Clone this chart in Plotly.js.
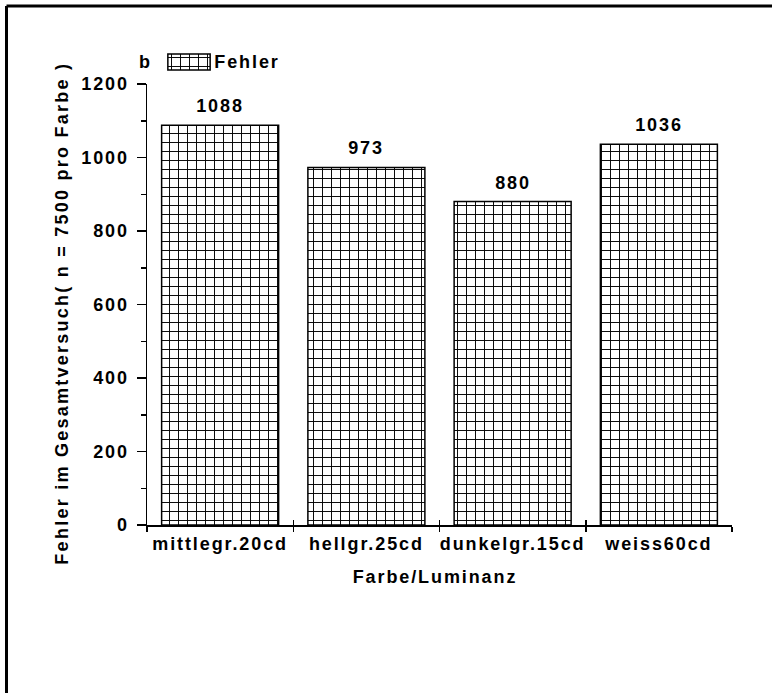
<!DOCTYPE html>
<html>
<head>
<meta charset="utf-8">
<script src="https://cdn.plot.ly/plotly-3.0.1.min.js"></script>
<style>
  html, body { margin: 0; padding: 0; background: #fff; }
  #chart { width: 772px; height: 693px; }
  .main-svg text { letter-spacing: 1.9px; }
  .main-svg .annotation[data-index="7"] text { letter-spacing: 2.25px; }
</style>
</head>
<body>
<div id="chart"></div>
<script>
// ---- data ----
const categories = ['mittlegr.20cd', 'hellgr.25cd', 'dunkelgr.15cd', 'weiss60cd'];
const fehler = [1088, 973, 880, 1036];
const seriesName = 'Fehler';
const panelLabel = 'b';
const xTitle = 'Farbe/Luminanz';
const yTitle = 'Fehler im Gesamtversuch( n = 7500 pro Farbe )';
const yTicks = [0, 200, 400, 600, 800, 1000, 1200];

// ---- geometry helpers (pixel -> paper) ----
const W = 772, H = 693;
const M = { l: 147, r: 40, t: 40, b: 168 };
const PW = W - M.l - M.r, PH = H - M.t - M.b;
const plotTopPx = 84;
const px = p => (p - M.l) / PW;
const py = p => (H - M.b - p) / PH;

const FONT = { family: 'Liberation Sans, Arial, sans-serif', size: 18, color: '#000', weight: 'bold' };
const pattern = { shape: '+', size: 9, solidity: 0.2, fgcolor: '#000', bgcolor: '#fff', fillmode: 'replace' };

const traces = [
  {
    type: 'bar', x: categories, y: fehler, name: seriesName,
    marker: { color: '#fff', pattern: pattern, line: { color: '#000', width: 1.5 } },
    xaxis: 'x', yaxis: 'y', showlegend: false, hoverinfo: 'x+y'
  },
  { // legend swatch
    type: 'bar', x: [0], y: [1], base: [0], width: [1], name: seriesName,
    marker: { color: '#fff', pattern: pattern, line: { color: '#000', width: 1.5 } },
    xaxis: 'x2', yaxis: 'y2', showlegend: false, hoverinfo: 'skip'
  },
  { // anchors the overlay tick axis
    type: 'scatter', mode: 'none', x: [0], y: [0], xaxis: 'x3', yaxis: 'y',
    showlegend: false, hoverinfo: 'skip'
  }
];

const annotations = fehler.map((v, i) => ({
  x: categories[i], y: v, xref: 'x', yref: 'y', text: String(v),
  showarrow: false, yanchor: 'bottom', yshift: 7, font: FONT
}));
annotations.push(
  { x: px(145), y: py(62), xref: 'paper', yref: 'paper', text: panelLabel, showarrow: false,
    xanchor: 'center', yanchor: 'middle', font: FONT },
  { x: px(218), y: py(62), xref: 'paper', yref: 'paper', text: seriesName, showarrow: false,
    xanchor: 'left', yanchor: 'middle', font: FONT },
  { x: px(435), y: py(577), xref: 'paper', yref: 'paper', text: xTitle, showarrow: false,
    xanchor: 'center', yanchor: 'middle', font: FONT },
  { x: px(62), y: py(313), xref: 'paper', yref: 'paper', text: yTitle, showarrow: false,
    xanchor: 'center', yanchor: 'middle', textangle: -90, font: FONT }
);

const layout = {
  width: W, height: H,
  margin: M,
  paper_bgcolor: '#fff', plot_bgcolor: '#fff',
  font: FONT,
  showlegend: false,
  bargap: 0.2,
  xaxis: {
    type: 'category', categoryarray: categories, categoryorder: 'array',
    range: [-0.5, categories.length - 0.5],
    showline: true, linecolor: '#000', linewidth: 1.5,
    ticks: 'outside', ticklen: 5, tickwidth: 1.5, tickcolor: '#000',
    tickson: 'boundaries', showgrid: false, zeroline: false,
    tickfont: FONT, ticklabelstandoff: 2, fixedrange: true
  },
  xaxis3: {
    overlaying: 'x', anchor: 'y', range: [-0.5, categories.length - 0.5],
    tickmode: 'array', tickvals: categories.map((c, i) => i - 0.5).concat([categories.length - 0.5]),
    ticks: 'inside', ticklen: 5, tickwidth: 1.5, tickcolor: '#000',
    showticklabels: false, showline: false, showgrid: false, zeroline: false, fixedrange: true
  },
  yaxis: {
    domain: [0, py(plotTopPx)], range: [0, 1200],
    tickmode: 'array', tickvals: yTicks,
    showline: true, linecolor: '#000', linewidth: 1.5,
    ticks: 'outside', ticklen: 9, tickwidth: 1.5, tickcolor: '#000',
    minor: { dtick: 100, ticks: 'outside', ticklen: 5, tickwidth: 1.5, tickcolor: '#000' },
    showgrid: false, zeroline: false, tickfont: FONT, ticklabelstandoff: 4, fixedrange: true
  },
  xaxis2: {
    domain: [px(167), px(211)], anchor: 'y2', range: [-0.52, 0.52], visible: false, fixedrange: true
  },
  yaxis2: {
    domain: [py(71), py(53)], anchor: 'x2', range: [-0.06, 1.06], visible: false, fixedrange: true
  },
  annotations: annotations,
  shapes: [
    { type: 'line', xref: 'paper', yref: 'paper', x0: px(6.5), x1: px(W + 20), y0: py(6), y1: py(6),
      line: { color: '#000', width: 3 } },
    { type: 'line', xref: 'paper', yref: 'paper', x0: px(6.5), x1: px(6.5), y0: py(6), y1: py(H + 20),
      line: { color: '#000', width: 3 } }
  ]
};

Plotly.newPlot('chart', traces, layout, { displayModeBar: false, staticPlot: true });
</script>
</body>
</html>
